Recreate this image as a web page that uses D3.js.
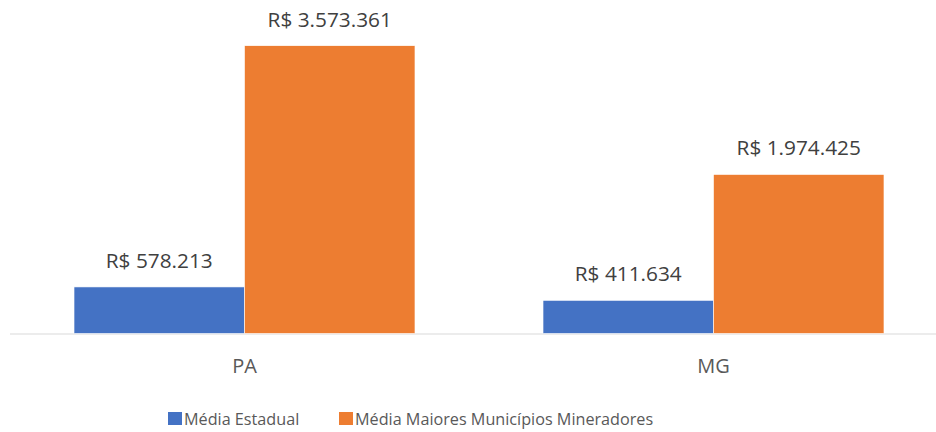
<!DOCTYPE html>
<html>
<head>
<meta charset="utf-8">
<script src="https://cdn.jsdelivr.net/npm/d3@7"></script>
<style>
  body { margin: 0; background: #fff; }
  text { font-family: 'Open Sans', 'Noto Sans', sans-serif; }
</style>
</head>
<body>
<div id="graf"></div>
<script>
// datos
const estados = ['PA', 'MG']
const series = ['Média Estadual', 'Média Maiores Municípios Mineradores']
const mediaEstadual = [578213, 411634]
const mediaMineradores = [3573361, 1974425]
const colores = ['#4472C4', '#ED7D31']

const anchoTotal = 936
const altoTotal = 432

const svg = d3.select('#graf')
  .append('svg')
  .attr('width', anchoTotal)
  .attr('height', altoTotal)

const base = 333.5
const tope = 45.7

const datos = estados.map((e, i) => ({
  estado: e,
  valores: [
    { serie: series[0], v: mediaEstadual[i], c: colores[0] },
    { serie: series[1], v: mediaMineradores[i], c: colores[1] },
  ]
}))

// el area del grafico sigue un poco mas alla del borde derecho
const x0 = d3.scaleBand()
  .domain(estados)
  .range([10, 948])
  .padding(0)

const x1 = d3.scaleBand()
  .domain(series)
  .range([0, x0.bandwidth()])
  .paddingInner(0)
  .paddingOuter(0.3755)

const y = d3.scaleLinear()
  .domain([0, 3573361])
  .range([base, tope])

const fmt = v => 'R$ ' + d3.format(',')(v).replace(/,/g, '.')

// eje
svg.append('line')
  .attr('x1', 10)
  .attr('x2', 936)
  .attr('y1', base + 0.5)
  .attr('y2', base + 0.5)
  .attr('stroke', '#d9d9d9')
  .attr('stroke-width', 1.2)

const grupos = svg.selectAll('g.estado')
  .data(datos)
  .enter()
  .append('g')
  .attr('class', 'estado')
  .attr('transform', d => `translate(${x0(d.estado)}, 0)`)

grupos.selectAll('rect')
  .data(d => d.valores)
  .enter()
  .append('rect')
  .attr('x', d => x1(d.serie))
  .attr('width', x1.bandwidth())
  .attr('y', d => y(d.v))
  .attr('height', d => base - y(d.v))
  .attr('fill', d => d.c)
  .attr('stroke', '#fff')
  .attr('stroke-width', 0.6)

grupos.selectAll('text.valor')
  .data(d => d.valores)
  .enter()
  .append('text')
  .attr('class', 'valor')
  .attr('x', d => x1(d.serie) + x1.bandwidth() / 2)
  .attr('y', d => y(d.v) - 19)
  .attr('text-anchor', 'middle')
  .attr('font-size', 20.8)
  .attr('fill', '#404040')
  .text(d => fmt(d.v))

// etiquetas de categoria
svg.selectAll('text.cat')
  .data(estados)
  .enter()
  .append('text')
  .attr('class', 'cat')
  .attr('x', d => x0(d) + x0.bandwidth() / 2)
  .attr('y', 373)
  .attr('text-anchor', 'middle')
  .attr('font-size', 20)
  .attr('fill', '#595959')
  .text(d => d)

// leyenda
const leyX = [168, 339]
const leyenda = svg.selectAll('g.ley')
  .data(series)
  .enter()
  .append('g')
  .attr('class', 'ley')
  .attr('transform', (d, i) => `translate(${leyX[i]}, 0)`)

leyenda.append('rect')
  .attr('x', 0)
  .attr('y', 412)
  .attr('width', 14)
  .attr('height', 13)
  .attr('fill', (d, i) => colores[i])

leyenda.append('text')
  .attr('x', 16)
  .attr('y', 425)
  .attr('font-size', 16.2)
  .attr('fill', '#595959')
  .text(d => d)
</script>
</body>
</html>
